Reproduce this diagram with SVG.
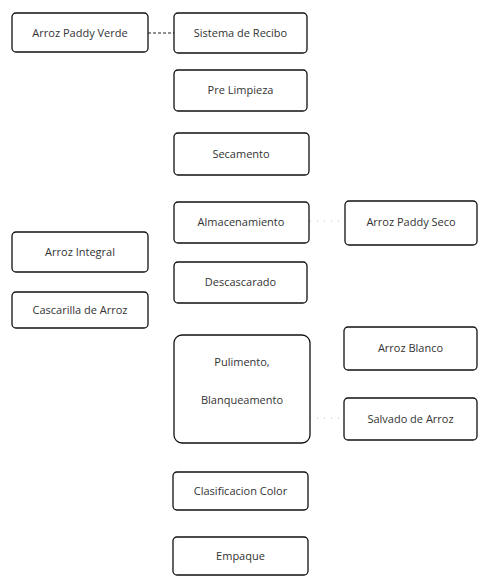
<svg xmlns="http://www.w3.org/2000/svg" width="480" height="578" viewBox="0 0 480 578">
<style>
.box{fill:#fff;stroke:#111;stroke-width:1.3}
.t{font-family:"Open Sans","DejaVu Sans",sans-serif;font-size:11px;fill:#333;text-anchor:middle}
.c{fill:none;stroke:#222;stroke-width:1;stroke-dasharray:3 2}
.f{fill:none;stroke:#bbb;stroke-width:1;stroke-dasharray:1 6}
</style>
<rect width="480" height="578" fill="#fff"/>
<g id="connectors">
<line class="c" x1="148" y1="33" x2="174" y2="33"/>
<line class="f" x1="310" y1="221" x2="345" y2="221"/>
<line class="f" x1="310" y1="418" x2="344" y2="418"/>
</g>
<g id="n1"><rect class="box" x="12" y="13" width="136" height="39" rx="4"/><text class="t" x="80" y="37">Arroz Paddy Verde</text></g>
<g id="n2"><rect class="box" x="174" y="13" width="133" height="40" rx="4"/><text class="t" x="240.5" y="37">Sistema de Recibo</text></g>
<g id="n3"><rect class="box" x="174" y="70" width="133" height="41" rx="4"/><text class="t" x="240.5" y="94">Pre Limpieza</text></g>
<g id="n4"><rect class="box" x="174" y="133" width="135" height="42" rx="4"/><text class="t" x="241" y="158">Secamento</text></g>
<g id="n5"><rect class="box" x="174" y="202" width="135" height="41" rx="4"/><text class="t" x="241" y="226">Almacenamiento</text></g>
<g id="n6"><rect class="box" x="345" y="201" width="132" height="44" rx="4"/><text class="t" x="411" y="226">Arroz Paddy Seco</text></g>
<g id="n7"><rect class="box" x="12" y="232" width="136" height="40" rx="4"/><text class="t" x="80" y="256">Arroz Integral</text></g>
<g id="n8"><rect class="box" x="174" y="262" width="133" height="41" rx="4"/><text class="t" x="240.5" y="286">Descascarado</text></g>
<g id="n9"><rect class="box" x="12" y="292" width="136" height="36" rx="4"/><text class="t" x="80" y="314">Cascarilla de Arroz</text></g>
<g id="n10"><rect class="box" x="174" y="335" width="136" height="108" rx="8"/><text class="t" x="242" y="366">Pulimento,</text><text class="t" x="242" y="404">Blanqueamento</text></g>
<g id="n11"><rect class="box" x="344" y="327" width="133" height="43" rx="4"/><text class="t" x="410.5" y="352">Arroz Blanco</text></g>
<g id="n12"><rect class="box" x="344" y="398" width="133" height="42" rx="4"/><text class="t" x="410.5" y="423">Salvado de Arroz</text></g>
<g id="n13"><rect class="box" x="173" y="472" width="135" height="38" rx="4"/><text class="t" x="240.5" y="495">Clasificacion Color</text></g>
<g id="n14"><rect class="box" x="173" y="537" width="135" height="38" rx="4"/><text class="t" x="240.5" y="560">Empaque</text></g>
</svg>
